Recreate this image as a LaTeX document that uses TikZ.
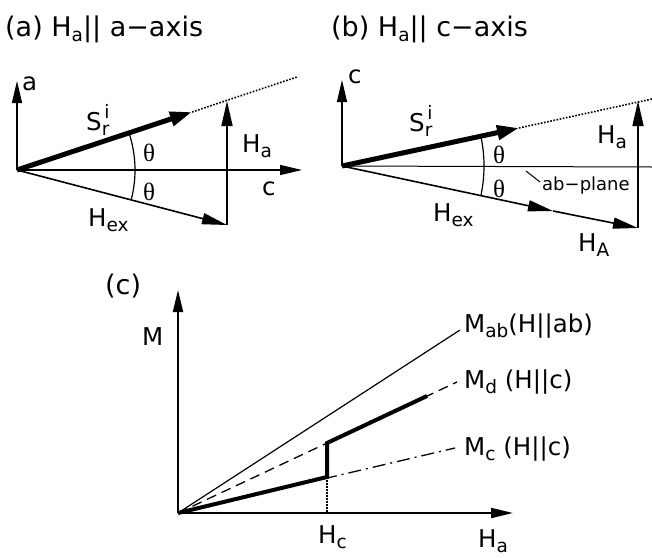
\documentclass[tikz,border=0pt]{standalone}
\usepackage{fontspec}
\setmainfont{DejaVu Sans}
\newfontfamily\thfont{Liberation Serif}
\usetikzlibrary{arrows.meta}
\newcommand\sbx[1]{\raisebox{-5pt}{\fontsize{18.5}{18.5}\selectfont #1}}
\newcommand\thx{{\thfont\fontsize{25}{25}\selectfont θ}}
\newcommand\Sri{S\rlap{\hspace{2.5pt}\raisebox{12pt}{\fontsize{18.5}{18.5}\selectfont i}}\raisebox{-5pt}{\fontsize{18.5}{18.5}\selectfont r}}
\tikzset{
  lbl/.style={inner sep=0pt, anchor=base west, font=\fontsize{24.5}{26}\selectfont},
  ttl/.style={inner sep=0pt, anchor=base west, font=\fontsize{27}{29}\selectfont},
  small/.style={inner sep=0pt, anchor=base west, font=\fontsize{18}{19}\selectfont},
  axisarr/.style={line width=1.4pt, -{Triangle[length=22pt,width=10pt]}},
  svec/.style={line width=5pt, -{Triangle[length=22pt,width=14pt]}},
  hvec/.style={line width=1.6pt, -{Triangle[length=25pt,width=11pt]}},
  thin/.style={line width=1pt},
  dotl/.style={line width=1.6pt, dash pattern=on 1.6pt off 1.6pt},
  arcl/.style={line width=1.2pt},
}
\begin{document}
\begin{tikzpicture}[x=1pt,y=-1pt]
\useasboundingbox (0,0) rectangle (652,557);
% ---------- (a)
\node[ttl] (ta) at (5,36) {(a) H\sbx{a}|| a−axis};
\coordinate (Oa) at (17,170);
\coordinate (Aa) at (17,81);
\coordinate (Ca) at (302,170);
\coordinate (Sa) at (192,112);
\coordinate (Da) at (297,77);
\coordinate (Pa) at (227,225);
\coordinate (Qa) at (227,101);
\draw[axisarr] (Oa) -- (Aa);
\draw[axisarr] (Oa) -- (Ca);
\draw[dotl] (Sa) -- (Da);
\draw[svec] (Oa) -- (Sa);
\draw[hvec] (Oa) -- (Pa);
\draw[hvec] (Pa) -- (Qa);
\draw[arcl] plot[domain=-18.3:14.7, samples=30] ({17+118*cos(\x)},{170+118*sin(\x)});
\node[lbl] (la) at (22,90) {a};
\node[lbl] (lc) at (262,195) {c};
\node[lbl] (lS) at (86,130) {\Sri};
\node[lbl] (lt1) at (143,161) {\thx};
\node[lbl] (lt2) at (143,200) {\thx};
\node[lbl] (lHa) at (242,152) {H\sbx{a}};
\node[lbl] (lHex) at (88,226) {H\sbx{ex}};
% ---------- (b)
\node[ttl] (tb) at (331,36) {(b) H\sbx{a}|| c−axis};
\coordinate (Ob) at (342,166);
\coordinate (Cb) at (342,80);
\coordinate (Rb) at (652,167);
\coordinate (Sb) at (519,128);
\coordinate (Db) at (652,99);
\coordinate (Mb) at (553,211);
\coordinate (Pb) at (638,228);
\coordinate (Qb) at (638,101);
\coordinate (Lb1) at (526,171);
\coordinate (Lb2) at (540,182);
\draw[axisarr] (Ob) -- (Cb);
\draw[thin] (Ob) -- (Rb);
\draw[dotl] (Sb) -- (Db);
\draw[svec] (Ob) -- (Sb);
\draw[hvec] (Ob) -- (Mb);
\draw[hvec] (Mb) -- (Pb);
\draw[hvec] (Pb) -- (Qb);
\draw[thin] (Lb1) -- (Lb2);
\draw[arcl] plot[domain=-11.6:11.9, samples=30] ({342+142*cos(\x)},{166+142*sin(\x)});
\node[lbl] (lcb) at (348,83) {c};
\node[lbl] (lSb) at (409,131) {\Sri};
\node[lbl] (lt3) at (493,163) {\thx};
\node[lbl] (lt4) at (493,197) {\thx};
\node[small] (lab) at (542,190) {ab−plane};
\node[lbl] (lHab) at (597,143) {H\sbx{a}};
\node[lbl] (lHexb) at (433,221) {H\sbx{ex}};
\node[lbl] (lHA) at (578,251) {H\sbx{A}};
% ---------- (c)
\node[ttl] (tc) at (105,294) {(c)};
\coordinate (Oc) at (178,513);
\coordinate (Mc) at (178,290);
\coordinate (Hc) at (513,513);
\coordinate (Eab) at (460,330);
\coordinate (Ed) at (457,382);
\coordinate (Ec) at (455,448);
\coordinate (J1) at (327,477);
\coordinate (J2) at (327,443);
\coordinate (J3) at (427,396);
\coordinate (Hcx) at (327,513);
\draw[line width=1.2pt] (Oc) -- (Eab);
\draw[line width=1.3pt, dash pattern=on 10pt off 6pt] (Oc) -- (Ed);
\draw[line width=1.3pt, dash pattern=on 13pt off 5pt on 2pt off 5pt] (Oc) -- (Ec);
\draw[line width=1.5pt, dash pattern=on 1.5pt off 1.5pt] (J1) -- (Hcx);
\draw[line width=4pt, line join=miter] (Oc) -- (J1) -- (J2) -- (J3);
\draw[axisarr, line width=2pt] (Oc) -- (Mc);
\draw[axisarr, line width=2pt] (Oc) -- (Hc);
\node[lbl] (lM) at (142,345) {M};
\node[lbl] (lHc) at (318,543) {H\sbx{c}};
\node[lbl] (lHac) at (478,547) {H\sbx{a}};
\node[lbl] (lMab) at (464,332) {M\sbx{ab}(H||ab)};
\node[lbl] (lMd) at (464,388) {M\sbx{d} (H||c)};
\node[lbl] (lMc) at (464,455) {M\sbx{c} (H||c)};
\end{tikzpicture}
\end{document}
